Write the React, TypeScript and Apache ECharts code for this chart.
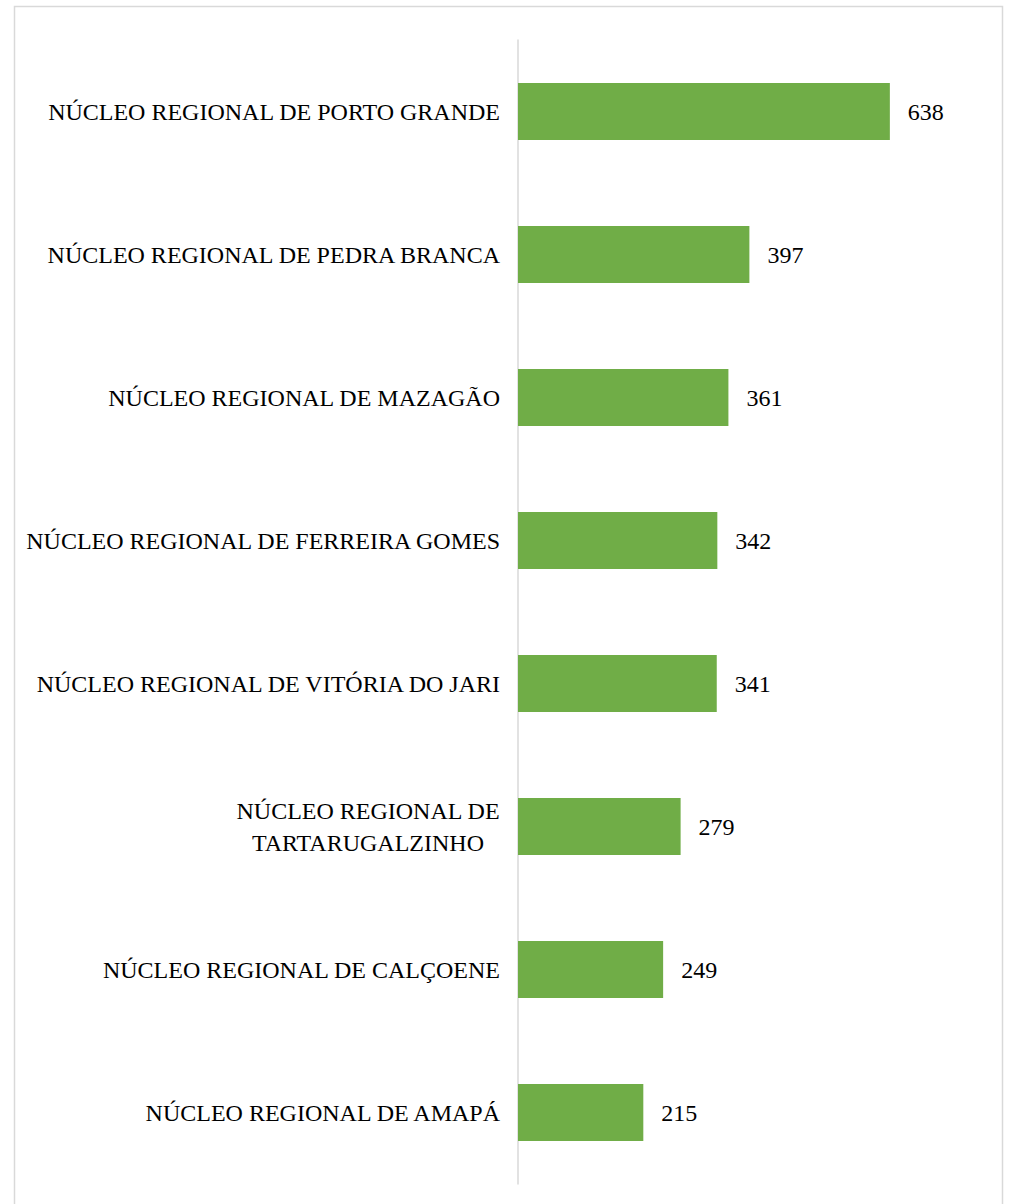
import React, { useEffect, useRef } from "react";
import * as echarts from "echarts";

const categories = [
  "NÚCLEO REGIONAL DE PORTO GRANDE",
  "NÚCLEO REGIONAL DE PEDRA BRANCA",
  "NÚCLEO REGIONAL DE MAZAGÃO",
  "NÚCLEO REGIONAL DE FERREIRA GOMES",
  "NÚCLEO REGIONAL DE VITÓRIA DO JARI",
  "NÚCLEO REGIONAL DE\nTARTARUGALZINHO",
  "NÚCLEO REGIONAL DE CALÇOENE",
  "NÚCLEO REGIONAL DE AMAPÁ",
];
const values = [638, 397, 361, 342, 341, 279, 249, 215];

const FONT = "'Liberation Serif', 'Times New Roman', serif";
const FS = 24;

export default function App() {
  const ref = useRef<HTMLDivElement>(null);
  useEffect(() => {
    if (!ref.current) return;
    const chart = echarts.init(ref.current, undefined, { renderer: "svg" });
    chart.setOption({
      animation: false,
      backgroundColor: "#ffffff",
      graphic: [
        {
          type: "rect",
          shape: { x: 14.5, y: 6.5, width: 988, height: 1210 },
          style: { fill: "none", stroke: "#d9d9d9", lineWidth: 1.5 },
          silent: true,
        },
      ],
      grid: { left: 518, top: 40, width: 408, height: 1144, containLabel: false },
      xAxis: {
        type: "value",
        min: 0,
        max: 700,
        show: false,
      },
      yAxis: {
        type: "category",
        data: categories,
        inverse: true,
        axisLine: { show: true, lineStyle: { color: "#d9d9d9", width: 1.5 } },
        axisTick: { show: false },
        axisLabel: {
          margin: 18,
          color: "#000000",
          fontFamily: FONT,
          fontSize: FS,
          lineHeight: 32,
          formatter: (v: string) => {
            if (v.indexOf("\n") >= 0) {
              return v
                .split("\n")
                .map((s) => `{c|${s}}`)
                .join("\n");
            }
            return v;
          },
          rich: {
            c: {
              width: 264,
              align: "center",
              fontFamily: FONT,
              fontSize: FS,
              lineHeight: 32,
              color: "#000000",
            },
          },
        },
      },
      series: [
        {
          type: "bar",
          data: values,
          barCategoryGap: "60%",
          itemStyle: { color: "#70ad47" },
          label: {
            show: true,
            position: "right",
            distance: 18,
            color: "#000000",
            fontFamily: FONT,
            fontSize: FS,
          },
        },
      ],
    });
    return () => chart.dispose();
  }, []);
  return (
    <div
      ref={ref}
      style={{ position: "fixed", left: 0, top: 0, width: 1012, height: 1204 }}
    />
  );
}
